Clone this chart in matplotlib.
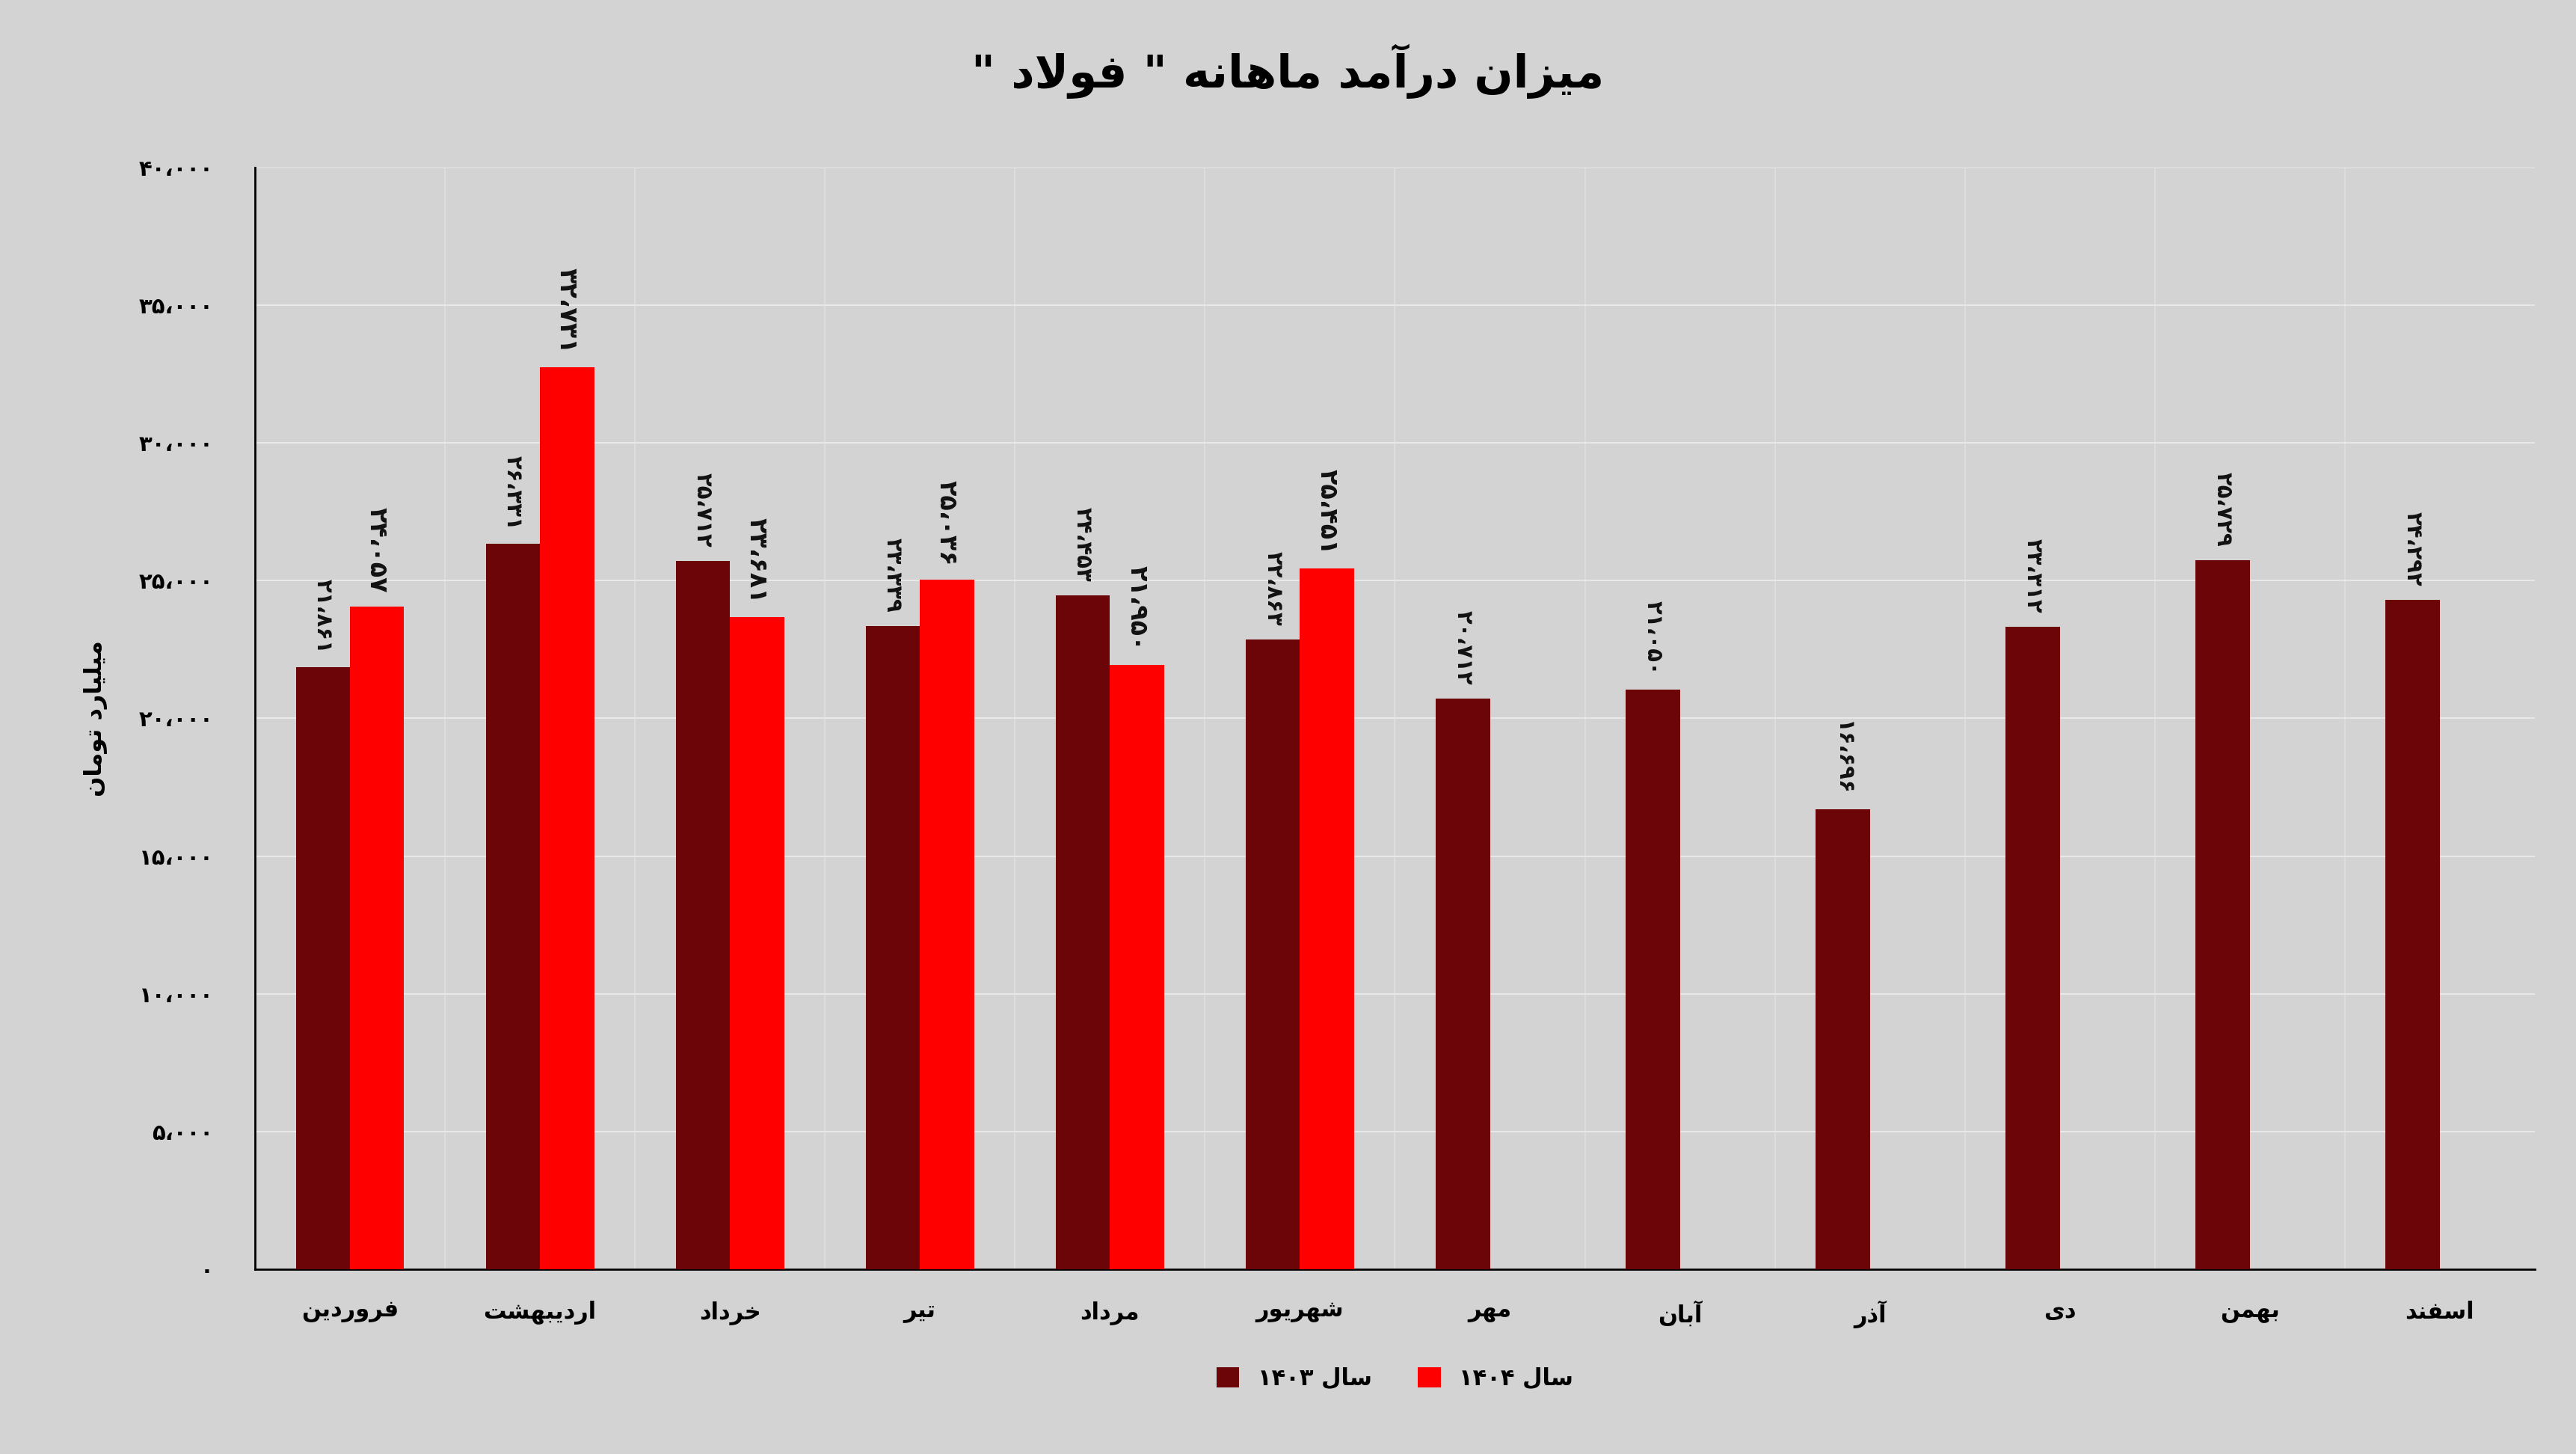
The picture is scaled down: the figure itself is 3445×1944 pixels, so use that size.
import matplotlib
matplotlib.use("Agg")
import matplotlib.pyplot as plt
import numpy as np
import re

months = ["فروردین", "اردیبهشت", "خرداد", "تیر", "مرداد", "شهریور", "مهر", "آبان", "آذر", "دی", "بهمن", "اسفند"]
v1403 = [21861, 26331, 25712, 23339, 24453, 22863, 20712, 21050, 16696, 23312, 25729, 24292]
v1404 = [24057, 32731, 23681, 25036, 21950, 25451]
title = 'میزان درآمد ماهانه " فولاد "'
ylabel = "میلیارد تومان"
leg = ["سال ۱۴۰۳", "سال ۱۴۰۴"]
yticks = [0, 5000, 10000, 15000, 20000, 25000, 30000, 35000, 40000]

FORMS = {
 'ا': (0xFE8D, 0xFE8E, None, None), 'آ': (0xFE81, 0xFE82, None, None),
 'ب': (0xFE8F, 0xFE90, 0xFE91, 0xFE92), 'ت': (0xFE95, 0xFE96, 0xFE97, 0xFE98),
 'خ': (0xFEA5, 0xFEA6, 0xFEA7, 0xFEA8), 'د': (0xFEA9, 0xFEAA, None, None),
 'ذ': (0xFEAB, 0xFEAC, None, None), 'ر': (0xFEAD, 0xFEAE, None, None),
 'ز': (0xFEAF, 0xFEB0, None, None), 'س': (0xFEB1, 0xFEB2, 0xFEB3, 0xFEB4),
 'ش': (0xFEB5, 0xFEB6, 0xFEB7, 0xFEB8), 'ف': (0xFED1, 0xFED2, 0xFED3, 0xFED4),
 'ل': (0xFEDD, 0xFEDE, 0xFEDF, 0xFEE0), 'م': (0xFEE1, 0xFEE2, 0xFEE3, 0xFEE4),
 'ن': (0xFEE5, 0xFEE6, 0xFEE7, 0xFEE8), 'ه': (0xFEE9, 0xFEEA, 0xFEEB, 0xFEEC),
 'و': (0xFEED, 0xFEEE, None, None), 'ی': (0xFBFC, 0xFBFD, 0xFBFE, 0xFBFF),
}

def shape_word(s):
    out = []
    i = 0
    n = len(s)
    def joins_next(c):
        return c in FORMS and FORMS[c][2] is not None
    while i < n:
        c = s[i]
        if c not in FORMS:
            out.append(c); i += 1; continue
        prev_join = i > 0 and joins_next(s[i-1]) and s[i-1] in FORMS
        if c == 'ل' and i + 1 < n and s[i+1] == 'ا':
            out.append(chr(0xFEFC if prev_join else 0xFEFB)); i += 2; continue
        nxt = s[i+1] if i + 1 < n else None
        next_join = nxt in FORMS and FORMS[c][2] is not None
        f = FORMS[c]
        if prev_join and next_join: g = f[3]
        elif prev_join: g = f[1]
        elif next_join: g = f[2]
        else: g = f[0]
        out.append(chr(g)); i += 1
    return ''.join(out)

def fa(s):
    toks = re.split(r'([۰-۹0-9،,]+)', s)
    res = []
    for t in toks:
        if re.fullmatch(r'[۰-۹0-9،,]+', t or 'x'):
            res.append(t)
        else:
            res.append(shape_word(t)[::-1])
    return ''.join(res[::-1])

def pnum(v):
    s = f"{v:,}".replace(",", "،")
    return s.translate(str.maketrans("0123456789", "۰۱۲۳۴۵۶۷۸۹"))

plt.rcParams['font.family'] = ['DejaVu Sans']
bg = '#d3d3d3'
c1, c2 = '#6b0508', '#ff0000'
fig = plt.figure(figsize=(34.45, 19.44), dpi=100, facecolor=bg)
ax = fig.add_axes([0.099, 0.127, 0.885, 0.758], facecolor=bg)

x = np.arange(len(months))
w = 0.285
ax.bar(x - w/2, v1403, w, color=c1, label=fa(leg[0]), zorder=3)
x2 = x[:len(v1404)]
ax.bar(x2 + w/2, v1404, w, color=c2, label=fa(leg[1]), zorder=3)
for xi, v in zip(x, v1403):
    xo = xi - w/2 if xi < len(v1404) else xi - w/2
    ax.text(xo, v + 500, pnum(v), rotation=-90, ha='center', va='bottom', fontsize=21, fontweight='bold', color='#111')
for xi, v in zip(x2, v1404):
    ax.text(xi + w/2, v + 500, pnum(v), rotation=-90, ha='center', va='bottom', fontsize=24, fontweight='bold', color='#111')

ax.set_xlim(-0.5, len(months) - 0.5)
ax.set_ylim(0, 40000)
ax.set_yticks(yticks)
ax.set_yticklabels([pnum(v) for v in yticks], fontsize=21, fontweight='bold')
ax.set_xticks(x)
ax.set_xticklabels([fa(m) for m in months], fontsize=22, fontweight='bold')
ax.tick_params(axis='x', length=0, pad=30)
ax.tick_params(axis='y', length=0, pad=40)
ax.grid(axis='y', color='#e8e8e8', lw=1.5, zorder=0)
for xv in np.arange(0.5, len(months) - 0.5, 1):
    ax.axvline(xv, color='#e0e0e0', lw=1.2, zorder=0)
for s in ['top', 'right']:
    ax.spines[s].set_visible(False)
ax.spines['left'].set_color('black'); ax.spines['left'].set_linewidth(2)
ax.spines['bottom'].set_color('black'); ax.spines['bottom'].set_linewidth(2)
ax.set_ylabel(fa(ylabel), fontsize=23, fontweight='bold', labelpad=30)
fig.suptitle(fa(title), fontsize=44, fontweight='bold', y=0.97)
ax.legend(loc='upper center', bbox_to_anchor=(0.5, -0.07), ncol=2, frameon=False, fontsize=22,
          prop={'weight': 'bold', 'size': 22}, handlelength=1, handleheight=1)
fig.savefig("out.png", dpi=100, facecolor=bg)
